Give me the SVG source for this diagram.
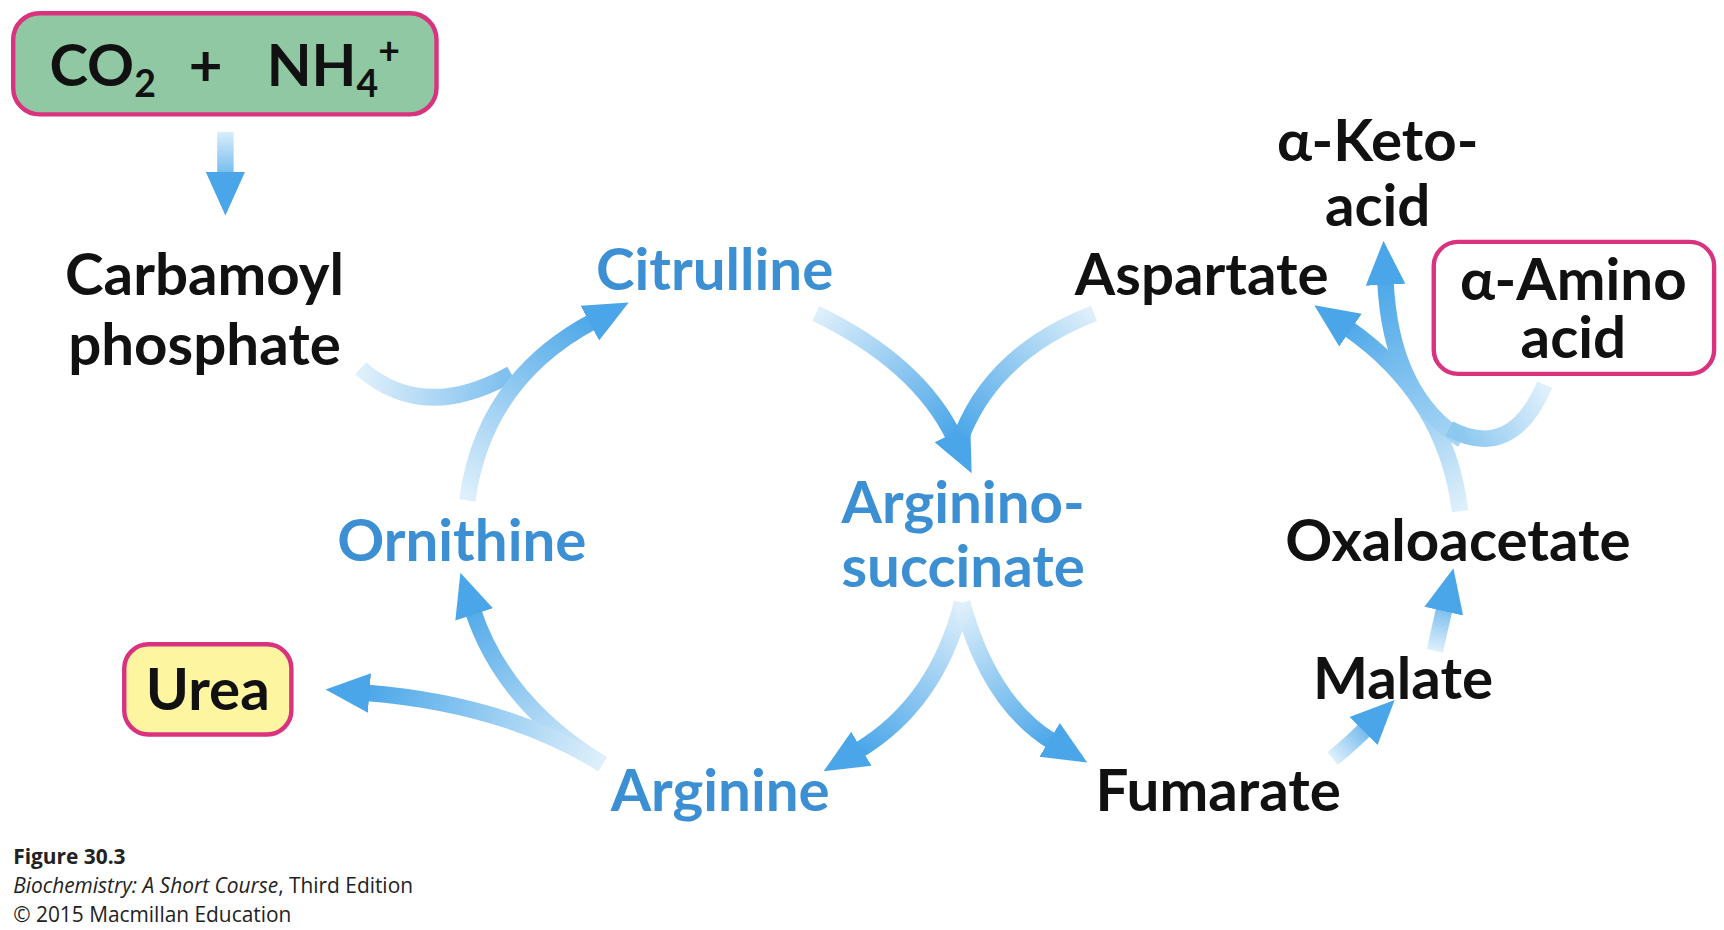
<svg xmlns="http://www.w3.org/2000/svg" width="1724" height="930" viewBox="0 0 1724 930">
<style>
.t{font-family:Lato,"Open Sans","Liberation Sans",sans-serif;font-weight:bold;font-size:53px;fill:#111}
.b{fill:#3b8fd2}
.a{fill:none;stroke-width:15;stroke-linecap:butt}
.box{stroke:#d9337f;stroke-width:4}
.cap{font-family:"Open Sans","Liberation Sans",sans-serif;font-size:19px;fill:#222}
</style>
<defs>
<marker id="h" markerUnits="userSpaceOnUse" markerWidth="44" markerHeight="44" refX="4" refY="22" orient="auto" viewBox="0 0 44 44"><path d="M0,4 L40,22 L0,40 Z" fill="#4aa6e8"/></marker>
<linearGradient id="g1" gradientUnits="userSpaceOnUse" x1="205" y1="120" x2="205" y2="175"><stop offset="0" stop-color="#d8eefb"/><stop offset="1" stop-color="#4aa6e8"/></linearGradient>
<linearGradient id="g2" gradientUnits="userSpaceOnUse" x1="425" y1="455" x2="545" y2="290"><stop offset="0" stop-color="#dff0fb"/><stop offset="1" stop-color="#4aa6e8"/></linearGradient>
<linearGradient id="g3" gradientUnits="userSpaceOnUse" x1="328" y1="335" x2="460" y2="345"><stop offset="0" stop-color="#dff0fb"/><stop offset="1" stop-color="#7fc0ee"/></linearGradient>
<linearGradient id="g4" gradientUnits="userSpaceOnUse" x1="742" y1="285" x2="865" y2="400"><stop offset="0" stop-color="#dff0fb"/><stop offset="1" stop-color="#4aa6e8"/></linearGradient>
<linearGradient id="g5" gradientUnits="userSpaceOnUse" x1="995" y1="285" x2="875" y2="400"><stop offset="0" stop-color="#dff0fb"/><stop offset="1" stop-color="#4aa6e8"/></linearGradient>
<linearGradient id="g6" gradientUnits="userSpaceOnUse" x1="875" y1="550" x2="780" y2="680"><stop offset="0" stop-color="#dff0fb"/><stop offset="1" stop-color="#4aa6e8"/></linearGradient>
<linearGradient id="g7" gradientUnits="userSpaceOnUse" x1="875" y1="550" x2="960" y2="675"><stop offset="0" stop-color="#dff0fb"/><stop offset="1" stop-color="#4aa6e8"/></linearGradient>
<linearGradient id="g8" gradientUnits="userSpaceOnUse" x1="548" y1="695" x2="430" y2="540"><stop offset="0" stop-color="#dff0fb"/><stop offset="1" stop-color="#4aa6e8"/></linearGradient>
<linearGradient id="g9" gradientUnits="userSpaceOnUse" x1="548" y1="695" x2="330" y2="630"><stop offset="0" stop-color="#dff0fb"/><stop offset="1" stop-color="#4aa6e8"/></linearGradient>
<linearGradient id="g10" gradientUnits="userSpaceOnUse" x1="1212" y1="690" x2="1255" y2="655"><stop offset="0" stop-color="#dff0fb"/><stop offset="1" stop-color="#4aa6e8"/></linearGradient>
<linearGradient id="g11" gradientUnits="userSpaceOnUse" x1="1305" y1="592" x2="1318" y2="535"><stop offset="0" stop-color="#dff0fb"/><stop offset="1" stop-color="#4aa6e8"/></linearGradient>
<linearGradient id="g12" gradientUnits="userSpaceOnUse" x1="1328" y1="465" x2="1215" y2="295"><stop offset="0" stop-color="#dff0fb"/><stop offset="1" stop-color="#4aa6e8"/></linearGradient>
<linearGradient id="g13" gradientUnits="userSpaceOnUse" x1="1330" y1="400" x2="1258" y2="250"><stop offset="0" stop-color="#a8d6f5"/><stop offset="1" stop-color="#4aa6e8"/></linearGradient>
<linearGradient id="g14" gradientUnits="userSpaceOnUse" x1="1405" y1="350" x2="1325" y2="390"><stop offset="0" stop-color="#dff0fb"/><stop offset="1" stop-color="#8cc8f0"/></linearGradient>
</defs>
<rect width="1724" height="930" fill="#fff"/>
<g transform="scale(1.0995)">
<g id="connectors">
<path class="a" stroke="url(#g1)" d="M205,120 L205,160" stroke-width="18" marker-end="url(#h)"/>
<path class="a" stroke="url(#g3)" d="M328,335 Q385,385 465,340"/>
<path class="a" stroke="url(#g2)" d="M425,455 Q440,345 540,292" marker-end="url(#h)"/>
<path class="a" stroke="url(#g4)" d="M742,285 Q835,330 868,398" marker-end="url(#h)"/>
<path class="a" stroke="url(#g5)" d="M995,285 Q905,320 875,395"/>
<path class="a" stroke="url(#g6)" d="M875,548 Q852,640 780,683" marker-end="url(#h)"/>
<path class="a" stroke="url(#g7)" d="M875,548 Q900,640 958,675" marker-end="url(#h)"/>
<path class="a" stroke="url(#g8)" d="M548,695 Q458,640 430,555" marker-end="url(#h)"/>
<path class="a" stroke="url(#g9)" d="M548,695 Q460,640 332,630" marker-end="url(#h)"/>
<path class="a" stroke="url(#g10)" d="M1212,690 Q1230,675 1243,662" marker-end="url(#h)"/>
<path class="a" stroke="url(#g11)" d="M1305,592 L1314,552" marker-end="url(#h)"/>
<path class="a" stroke="url(#g12)" d="M1328,465 Q1315,360 1225,298" marker-end="url(#h)"/>
<path class="a" stroke="url(#g13)" d="M1330,400 Q1265,360 1260,255" marker-end="url(#h)"/>
<path class="a" stroke="url(#g14)" d="M1405,350 Q1375,420 1318,390"/>
</g>
<g id="n-co2"><rect class="box" x="12" y="12" width="385" height="92" rx="24" fill="#8fc8a2"/>
<text class="t" x="45" y="78">CO<tspan font-size="34" dy="10">2</tspan><tspan dy="-10" dx="30">+</tspan><tspan dx="40">NH</tspan><tspan font-size="34" dy="10">4</tspan><tspan font-size="34" dy="-30">+</tspan></text></g>
<g id="n-carb"><text class="t" x="186" y="268" text-anchor="middle">Carbamoyl</text><text class="t" x="186" y="332" text-anchor="middle">phosphate</text></g>
<g id="n-cit"><text class="t b" x="650" y="264" text-anchor="middle">Citrulline</text></g>
<g id="n-orn"><text class="t b" x="420" y="510" text-anchor="middle">Ornithine</text></g>
<g id="n-as"><text class="t b" x="876" y="476" text-anchor="middle">Arginino-</text><text class="t b" x="876" y="534" text-anchor="middle">succinate</text></g>
<g id="n-arg"><text class="t b" x="655" y="738" text-anchor="middle">Arginine</text></g>
<g id="n-urea"><rect class="box" x="113" y="586" width="152" height="82" rx="22" fill="#fdf5a0"/><text class="t" x="189" y="646" text-anchor="middle">Urea</text></g>
<g id="n-fum"><text class="t" x="1108" y="738" text-anchor="middle">Fumarate</text></g>
<g id="n-mal"><text class="t" x="1276" y="636" text-anchor="middle">Malate</text></g>
<g id="n-oxa"><text class="t" x="1326" y="510" text-anchor="middle">Oxaloacetate</text></g>
<g id="n-asp"><text class="t" x="1093" y="268" text-anchor="middle">Aspartate</text></g>
<g id="n-keto"><text class="t" x="1253" y="146" text-anchor="middle">α-Keto-</text><text class="t" x="1253" y="206" text-anchor="middle">acid</text></g>
<g id="n-amino"><rect class="box" x="1304" y="220" width="255" height="120" rx="22" fill="#fff"/><text class="t" x="1431" y="273" text-anchor="middle" font-size="50">α-Amino</text><text class="t" x="1431" y="326" text-anchor="middle" font-size="50">acid</text></g>
<g id="caption"><text class="cap" x="12" y="786" font-weight="bold">Figure 30.3</text><text class="cap" x="12" y="812"><tspan font-style="italic">Biochemistry: A Short Course</tspan>, Third Edition</text><text class="cap" x="12" y="839">© 2015 Macmillan Education</text></g>
</g>
</svg>
